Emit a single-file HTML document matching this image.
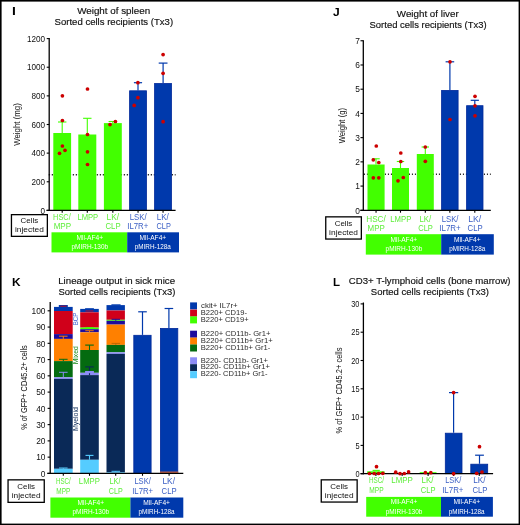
<!DOCTYPE html>
<html><head><meta charset="utf-8"><style>
html,body{margin:0;padding:0;background:#fff;}
svg{display:block;font-family:'Liberation Sans', sans-serif;will-change:transform;}
</style></head><body>
<svg width="520" height="525" viewBox="0 0 520 525">
<rect x="0" y="0" width="520" height="525" fill="#fff"/>
<text x="11.97" y="15.40" font-size="11.5" fill="#000" textLength="3.86" lengthAdjust="spacingAndGlyphs" font-weight="bold">I</text>
<text x="77.16" y="13.50" font-size="9.0" fill="#111" textLength="72.98" lengthAdjust="spacingAndGlyphs" stroke="#111" stroke-width="0.15">Weight of spleen</text>
<text x="54.57" y="24.70" font-size="9.0" fill="#111" textLength="118.53" lengthAdjust="spacingAndGlyphs" stroke="#111" stroke-width="0.15">Sorted cells recipients (Tx3)</text>
<line x1="48.75" y1="174.80" x2="175.60" y2="174.80" stroke="#2a2a2a" stroke-width="1.5" stroke-dasharray="1.3 1.7"/>
<rect x="53.30" y="133.00" width="17.80" height="77.40" fill="#42ff00" />
<rect x="78.30" y="134.50" width="18.00" height="75.90" fill="#42ff00" />
<rect x="103.90" y="123.10" width="17.90" height="87.30" fill="#42ff00" />
<rect x="129.60" y="90.80" width="16.90" height="119.60" fill="#0039ac" stroke="#00289a" stroke-width="0.8"/>
<rect x="154.60" y="83.50" width="16.90" height="126.90" fill="#0039ac" stroke="#00289a" stroke-width="0.8"/>
<line x1="62.20" y1="122.00" x2="62.20" y2="133.00" stroke="#42ff00" stroke-width="1.1" />
<line x1="58.00" y1="122.00" x2="66.40" y2="122.00" stroke="#42ff00" stroke-width="1.1" />
<line x1="87.30" y1="118.30" x2="87.30" y2="134.50" stroke="#42ff00" stroke-width="1.1" />
<line x1="83.10" y1="118.30" x2="91.50" y2="118.30" stroke="#42ff00" stroke-width="1.1" />
<line x1="112.80" y1="121.50" x2="112.80" y2="123.10" stroke="#42ff00" stroke-width="1.1" />
<line x1="108.60" y1="121.50" x2="117.00" y2="121.50" stroke="#42ff00" stroke-width="1.1" />
<line x1="138.00" y1="82.70" x2="138.00" y2="90.40" stroke="#0039ac" stroke-width="1.2" />
<line x1="133.90" y1="82.70" x2="142.10" y2="82.70" stroke="#0039ac" stroke-width="1.2" />
<line x1="163.10" y1="63.10" x2="163.10" y2="83.10" stroke="#0039ac" stroke-width="1.2" />
<line x1="158.70" y1="63.10" x2="167.50" y2="63.10" stroke="#0039ac" stroke-width="1.2" />
<line x1="49.20" y1="38.00" x2="49.20" y2="211.00" stroke="#000" stroke-width="1.3" />
<line x1="46.50" y1="210.40" x2="175.60" y2="210.40" stroke="#000" stroke-width="1.2" />
<line x1="46.70" y1="210.40" x2="49.20" y2="210.40" stroke="#000" stroke-width="1.1" />
<text x="40.59" y="213.64" font-size="8.4" fill="#111" textLength="4.53" lengthAdjust="spacingAndGlyphs">0</text>
<line x1="46.70" y1="181.77" x2="49.20" y2="181.77" stroke="#000" stroke-width="1.1" />
<text x="31.52" y="185.01" font-size="8.4" fill="#111" textLength="13.59" lengthAdjust="spacingAndGlyphs">200</text>
<line x1="46.70" y1="153.13" x2="49.20" y2="153.13" stroke="#000" stroke-width="1.1" />
<text x="31.52" y="156.37" font-size="8.4" fill="#111" textLength="13.59" lengthAdjust="spacingAndGlyphs">400</text>
<line x1="46.70" y1="124.50" x2="49.20" y2="124.50" stroke="#000" stroke-width="1.1" />
<text x="31.52" y="127.74" font-size="8.4" fill="#111" textLength="13.59" lengthAdjust="spacingAndGlyphs">600</text>
<line x1="46.70" y1="95.87" x2="49.20" y2="95.87" stroke="#000" stroke-width="1.1" />
<text x="31.52" y="99.11" font-size="8.4" fill="#111" textLength="13.59" lengthAdjust="spacingAndGlyphs">800</text>
<line x1="46.70" y1="67.23" x2="49.20" y2="67.23" stroke="#000" stroke-width="1.1" />
<text x="26.99" y="70.47" font-size="8.4" fill="#111" textLength="18.13" lengthAdjust="spacingAndGlyphs">1000</text>
<line x1="46.70" y1="38.60" x2="49.20" y2="38.60" stroke="#000" stroke-width="1.1" />
<text x="26.99" y="41.84" font-size="8.4" fill="#111" textLength="18.13" lengthAdjust="spacingAndGlyphs">1200</text>
<line x1="62.20" y1="210.40" x2="62.20" y2="212.80" stroke="#000" stroke-width="1.1" />
<line x1="87.30" y1="210.40" x2="87.30" y2="212.80" stroke="#000" stroke-width="1.1" />
<line x1="112.85" y1="210.40" x2="112.85" y2="212.80" stroke="#000" stroke-width="1.1" />
<line x1="138.05" y1="210.40" x2="138.05" y2="212.80" stroke="#000" stroke-width="1.1" />
<line x1="163.05" y1="210.40" x2="163.05" y2="212.80" stroke="#000" stroke-width="1.1" />
<circle cx="62.40" cy="95.80" r="1.85" fill="#cc0000"/>
<circle cx="62.40" cy="120.50" r="1.85" fill="#cc0000"/>
<circle cx="62.40" cy="146.00" r="1.85" fill="#cc0000"/>
<circle cx="59.50" cy="153.30" r="1.85" fill="#cc0000"/>
<circle cx="65.00" cy="150.30" r="1.85" fill="#cc0000"/>
<circle cx="87.50" cy="89.00" r="1.85" fill="#cc0000"/>
<circle cx="87.50" cy="134.50" r="1.85" fill="#cc0000"/>
<circle cx="87.50" cy="151.80" r="1.85" fill="#cc0000"/>
<circle cx="87.50" cy="164.50" r="1.85" fill="#cc0000"/>
<circle cx="110.00" cy="124.60" r="1.85" fill="#cc0000"/>
<circle cx="115.40" cy="121.50" r="1.85" fill="#cc0000"/>
<circle cx="137.90" cy="82.70" r="1.85" fill="#cc0000"/>
<circle cx="137.90" cy="97.70" r="1.85" fill="#cc0000"/>
<circle cx="134.20" cy="105.40" r="1.85" fill="#cc0000"/>
<circle cx="163.10" cy="54.60" r="1.85" fill="#cc0000"/>
<circle cx="163.10" cy="73.30" r="1.85" fill="#cc0000"/>
<circle cx="163.10" cy="121.70" r="1.85" fill="#cc0000"/>
<text x="20.17" y="145.80" font-size="9.8" fill="#111" textLength="42.62" lengthAdjust="spacingAndGlyphs" transform="rotate(-90 20.20 145.80)">Weight (mg)</text>
<text x="53.10" y="220.10" font-size="8.3" fill="#5eee3a" textLength="17.60" lengthAdjust="spacingAndGlyphs">HSC/</text>
<text x="53.64" y="229.20" font-size="8.3" fill="#5eee3a" textLength="17.49" lengthAdjust="spacingAndGlyphs">MPP</text>
<text x="77.48" y="220.10" font-size="8.3" fill="#5eee3a" textLength="20.73" lengthAdjust="spacingAndGlyphs">LMPP</text>
<text x="106.62" y="220.10" font-size="8.3" fill="#5eee3a" textLength="12.38" lengthAdjust="spacingAndGlyphs">LK/</text>
<text x="105.51" y="229.20" font-size="8.3" fill="#5eee3a" textLength="15.10" lengthAdjust="spacingAndGlyphs">CLP</text>
<text x="129.66" y="220.10" font-size="8.3" fill="#3a5ec4" textLength="16.94" lengthAdjust="spacingAndGlyphs">LSK/</text>
<text x="127.28" y="229.20" font-size="8.3" fill="#3a5ec4" textLength="21.00" lengthAdjust="spacingAndGlyphs">IL7R+</text>
<text x="156.64" y="220.10" font-size="8.3" fill="#3a5ec4" textLength="12.16" lengthAdjust="spacingAndGlyphs">LK/</text>
<text x="156.53" y="229.20" font-size="8.3" fill="#3a5ec4" textLength="14.26" lengthAdjust="spacingAndGlyphs">CLP</text>
<rect x="11.45" y="214.65" width="35.90" height="21.70" fill="#fff" stroke="#000" stroke-width="1.3"/>
<text x="20.55" y="223.40" font-size="8.0" fill="#111" textLength="17.59" lengthAdjust="spacingAndGlyphs">Cells</text>
<text x="14.99" y="232.10" font-size="8.0" fill="#111" textLength="28.80" lengthAdjust="spacingAndGlyphs">injected</text>
<rect x="51.50" y="232.30" width="75.70" height="20.10" fill="#42ff00" />
<rect x="127.20" y="232.30" width="51.80" height="20.10" fill="#0039ac" />
<text x="76.41" y="239.70" font-size="7.9" fill="#fff" textLength="26.67" lengthAdjust="spacingAndGlyphs">Mll-AF4+</text>
<text x="71.43" y="249.20" font-size="7.9" fill="#fff" textLength="36.69" lengthAdjust="spacingAndGlyphs">pMIRH-130b</text>
<text x="139.56" y="239.70" font-size="7.9" fill="#fff" textLength="26.67" lengthAdjust="spacingAndGlyphs">Mll-AF4+</text>
<text x="134.79" y="249.20" font-size="7.9" fill="#fff" textLength="36.01" lengthAdjust="spacingAndGlyphs">pMIRH-128a</text>
<text x="332.92" y="15.60" font-size="11.5" fill="#000" textLength="6.71" lengthAdjust="spacingAndGlyphs" font-weight="bold">J</text>
<text x="396.86" y="16.50" font-size="9.0" fill="#111" textLength="61.80" lengthAdjust="spacingAndGlyphs" stroke="#111" stroke-width="0.15">Weight of liver</text>
<text x="369.57" y="28.10" font-size="9.0" fill="#111" textLength="117.01" lengthAdjust="spacingAndGlyphs" stroke="#111" stroke-width="0.15">Sorted cells recipients (Tx3)</text>
<line x1="363.90" y1="174.15" x2="490.80" y2="174.15" stroke="#2a2a2a" stroke-width="1.5" stroke-dasharray="1.1 1.9"/>
<rect x="367.50" y="164.50" width="17.10" height="45.80" fill="#42ff00" />
<rect x="392.00" y="168.00" width="17.00" height="42.30" fill="#42ff00" />
<rect x="416.80" y="154.00" width="17.00" height="56.30" fill="#42ff00" />
<rect x="441.60" y="90.40" width="16.50" height="119.90" fill="#0039ac" stroke="#00289a" stroke-width="0.8"/>
<rect x="466.60" y="105.70" width="16.40" height="104.60" fill="#0039ac" stroke="#00289a" stroke-width="0.8"/>
<line x1="376.00" y1="158.80" x2="376.00" y2="164.50" stroke="#42ff00" stroke-width="1.1" />
<line x1="372.30" y1="158.80" x2="379.70" y2="158.80" stroke="#42ff00" stroke-width="1.1" />
<line x1="400.50" y1="161.50" x2="400.50" y2="168.00" stroke="#42ff00" stroke-width="1.1" />
<line x1="396.80" y1="161.50" x2="404.20" y2="161.50" stroke="#42ff00" stroke-width="1.1" />
<line x1="425.30" y1="147.00" x2="425.30" y2="154.00" stroke="#42ff00" stroke-width="1.1" />
<line x1="421.60" y1="147.00" x2="429.00" y2="147.00" stroke="#42ff00" stroke-width="1.1" />
<line x1="449.90" y1="61.80" x2="449.90" y2="90.00" stroke="#0039ac" stroke-width="1.2" />
<line x1="445.60" y1="61.80" x2="454.20" y2="61.80" stroke="#0039ac" stroke-width="1.2" />
<line x1="474.80" y1="100.30" x2="474.80" y2="105.30" stroke="#0039ac" stroke-width="1.2" />
<line x1="470.70" y1="100.30" x2="478.90" y2="100.30" stroke="#0039ac" stroke-width="1.2" />
<line x1="363.30" y1="40.30" x2="363.30" y2="211.00" stroke="#000" stroke-width="1.3" />
<line x1="360.30" y1="210.30" x2="490.80" y2="210.30" stroke="#000" stroke-width="1.2" />
<line x1="360.50" y1="210.30" x2="363.30" y2="210.30" stroke="#000" stroke-width="1.1" />
<text x="355.26" y="213.54" font-size="8.4" fill="#111" textLength="4.67" lengthAdjust="spacingAndGlyphs">0</text>
<line x1="360.50" y1="186.08" x2="363.30" y2="186.08" stroke="#000" stroke-width="1.1" />
<text x="355.34" y="189.32" font-size="8.4" fill="#111" textLength="4.67" lengthAdjust="spacingAndGlyphs">1</text>
<line x1="360.50" y1="161.86" x2="363.30" y2="161.86" stroke="#000" stroke-width="1.1" />
<text x="355.35" y="165.10" font-size="8.4" fill="#111" textLength="4.67" lengthAdjust="spacingAndGlyphs">2</text>
<line x1="360.50" y1="137.64" x2="363.30" y2="137.64" stroke="#000" stroke-width="1.1" />
<text x="355.30" y="140.88" font-size="8.4" fill="#111" textLength="4.67" lengthAdjust="spacingAndGlyphs">3</text>
<line x1="360.50" y1="113.42" x2="363.30" y2="113.42" stroke="#000" stroke-width="1.1" />
<text x="355.17" y="116.66" font-size="8.4" fill="#111" textLength="4.67" lengthAdjust="spacingAndGlyphs">4</text>
<line x1="360.50" y1="89.20" x2="363.30" y2="89.20" stroke="#000" stroke-width="1.1" />
<text x="355.28" y="92.44" font-size="8.4" fill="#111" textLength="4.67" lengthAdjust="spacingAndGlyphs">5</text>
<line x1="360.50" y1="64.98" x2="363.30" y2="64.98" stroke="#000" stroke-width="1.1" />
<text x="355.30" y="68.22" font-size="8.4" fill="#111" textLength="4.67" lengthAdjust="spacingAndGlyphs">6</text>
<line x1="360.50" y1="40.76" x2="363.30" y2="40.76" stroke="#000" stroke-width="1.1" />
<text x="355.35" y="44.00" font-size="8.4" fill="#111" textLength="4.67" lengthAdjust="spacingAndGlyphs">7</text>
<line x1="376.05" y1="210.30" x2="376.05" y2="212.70" stroke="#000" stroke-width="1.1" />
<line x1="400.50" y1="210.30" x2="400.50" y2="212.70" stroke="#000" stroke-width="1.1" />
<line x1="425.30" y1="210.30" x2="425.30" y2="212.70" stroke="#000" stroke-width="1.1" />
<line x1="449.85" y1="210.30" x2="449.85" y2="212.70" stroke="#000" stroke-width="1.1" />
<line x1="474.80" y1="210.30" x2="474.80" y2="212.70" stroke="#000" stroke-width="1.1" />
<circle cx="376.30" cy="146.00" r="1.85" fill="#cc0000"/>
<circle cx="373.30" cy="159.80" r="1.85" fill="#cc0000"/>
<circle cx="378.80" cy="162.50" r="1.85" fill="#cc0000"/>
<circle cx="373.30" cy="177.80" r="1.85" fill="#cc0000"/>
<circle cx="378.80" cy="177.80" r="1.85" fill="#cc0000"/>
<circle cx="400.80" cy="153.00" r="1.85" fill="#cc0000"/>
<circle cx="400.80" cy="161.50" r="1.85" fill="#cc0000"/>
<circle cx="398.00" cy="180.80" r="1.85" fill="#cc0000"/>
<circle cx="403.30" cy="177.50" r="1.85" fill="#cc0000"/>
<circle cx="425.30" cy="147.00" r="1.85" fill="#cc0000"/>
<circle cx="425.30" cy="161.30" r="1.85" fill="#cc0000"/>
<circle cx="450.00" cy="61.80" r="1.85" fill="#cc0000"/>
<circle cx="450.00" cy="119.50" r="1.85" fill="#cc0000"/>
<circle cx="475.00" cy="96.30" r="1.85" fill="#cc0000"/>
<circle cx="475.00" cy="105.80" r="1.85" fill="#cc0000"/>
<circle cx="475.00" cy="115.80" r="1.85" fill="#cc0000"/>
<text x="344.67" y="143.30" font-size="9.8" fill="#111" textLength="35.41" lengthAdjust="spacingAndGlyphs" transform="rotate(-90 344.70 143.30)">Weight (g)</text>
<text x="366.23" y="222.10" font-size="8.3" fill="#5eee3a" textLength="19.57" lengthAdjust="spacingAndGlyphs">HSC/</text>
<text x="367.55" y="231.30" font-size="8.3" fill="#5eee3a" textLength="17.17" lengthAdjust="spacingAndGlyphs">MPP</text>
<text x="390.27" y="222.10" font-size="8.3" fill="#5eee3a" textLength="21.04" lengthAdjust="spacingAndGlyphs">LMPP</text>
<text x="419.56" y="222.10" font-size="8.3" fill="#5eee3a" textLength="11.64" lengthAdjust="spacingAndGlyphs">LK/</text>
<text x="418.22" y="231.30" font-size="8.3" fill="#5eee3a" textLength="14.68" lengthAdjust="spacingAndGlyphs">CLP</text>
<text x="441.66" y="222.10" font-size="8.3" fill="#3a5ec4" textLength="16.84" lengthAdjust="spacingAndGlyphs">LSK/</text>
<text x="439.27" y="231.30" font-size="8.3" fill="#3a5ec4" textLength="21.43" lengthAdjust="spacingAndGlyphs">IL7R+</text>
<text x="468.19" y="222.10" font-size="8.3" fill="#3a5ec4" textLength="13.01" lengthAdjust="spacingAndGlyphs">LK/</text>
<text x="467.61" y="231.30" font-size="8.3" fill="#3a5ec4" textLength="15.10" lengthAdjust="spacingAndGlyphs">CLP</text>
<rect x="325.75" y="216.85" width="35.60" height="22.20" fill="#fff" stroke="#000" stroke-width="1.3"/>
<text x="334.70" y="225.80" font-size="8.0" fill="#111" textLength="17.59" lengthAdjust="spacingAndGlyphs">Cells</text>
<text x="329.14" y="235.30" font-size="8.0" fill="#111" textLength="28.80" lengthAdjust="spacingAndGlyphs">injected</text>
<rect x="365.80" y="234.20" width="75.40" height="20.40" fill="#42ff00" />
<rect x="441.20" y="234.20" width="52.60" height="20.40" fill="#0039ac" />
<text x="390.56" y="241.60" font-size="7.9" fill="#fff" textLength="26.67" lengthAdjust="spacingAndGlyphs">Mll-AF4+</text>
<text x="385.58" y="251.10" font-size="7.9" fill="#fff" textLength="36.69" lengthAdjust="spacingAndGlyphs">pMIRH-130b</text>
<text x="453.96" y="241.60" font-size="7.9" fill="#fff" textLength="26.67" lengthAdjust="spacingAndGlyphs">Mll-AF4+</text>
<text x="449.19" y="251.10" font-size="7.9" fill="#fff" textLength="36.01" lengthAdjust="spacingAndGlyphs">pMIRH-128a</text>
<text x="12.10" y="285.70" font-size="11.5" fill="#000" textLength="8.61" lengthAdjust="spacingAndGlyphs" font-weight="bold">K</text>
<text x="58.21" y="284.40" font-size="9.0" fill="#111" textLength="116.82" lengthAdjust="spacingAndGlyphs" stroke="#111" stroke-width="0.15">Lineage output in sick mice</text>
<text x="58.57" y="295.10" font-size="9.0" fill="#111" textLength="116.91" lengthAdjust="spacingAndGlyphs" stroke="#111" stroke-width="0.15">Sorted cells recipients (Tx3)</text>
<rect x="54.00" y="306.90" width="18.70" height="4.10" fill="#0039ac" />
<rect x="54.00" y="311.00" width="18.70" height="23.10" fill="#d0001a" />
<rect x="54.00" y="334.10" width="18.70" height="4.80" fill="#1e0c9c" />
<rect x="54.00" y="338.90" width="18.70" height="22.20" fill="#ff8000" />
<rect x="54.00" y="361.10" width="18.70" height="16.20" fill="#046b10" />
<rect x="54.00" y="377.30" width="18.70" height="1.60" fill="#8c8cf5" />
<rect x="54.00" y="378.90" width="18.70" height="89.90" fill="#0a2957" />
<rect x="54.00" y="468.80" width="18.70" height="4.60" fill="#55ccff" />
<rect x="80.20" y="308.90" width="18.60" height="3.40" fill="#0039ac" />
<rect x="80.20" y="312.30" width="18.60" height="15.30" fill="#d0001a" />
<rect x="80.20" y="327.60" width="18.60" height="1.60" fill="#42ff00" />
<rect x="80.20" y="329.20" width="18.60" height="3.10" fill="#1e0c9c" />
<rect x="80.20" y="332.30" width="18.60" height="17.70" fill="#ff8000" />
<rect x="80.20" y="350.00" width="18.60" height="22.80" fill="#046b10" />
<rect x="80.20" y="372.80" width="18.60" height="2.30" fill="#8c8cf5" />
<rect x="80.20" y="375.10" width="18.60" height="84.70" fill="#0a2957" />
<rect x="80.20" y="459.80" width="18.60" height="13.60" fill="#55ccff" />
<rect x="106.50" y="305.10" width="18.40" height="5.40" fill="#0039ac" />
<rect x="106.50" y="310.50" width="18.40" height="9.30" fill="#d0001a" />
<rect x="106.50" y="319.80" width="18.40" height="1.00" fill="#42ff00" />
<rect x="106.50" y="320.80" width="18.40" height="3.80" fill="#1e0c9c" />
<rect x="106.50" y="324.60" width="18.40" height="20.30" fill="#ff8000" />
<rect x="106.50" y="344.90" width="18.40" height="7.40" fill="#046b10" />
<rect x="106.50" y="352.30" width="18.40" height="1.60" fill="#8c8cf5" />
<rect x="106.50" y="353.90" width="18.40" height="118.40" fill="#0a2957" />
<rect x="106.50" y="472.30" width="18.40" height="1.10" fill="#55ccff" />
<rect x="58.80" y="305.00" width="9.00" height="2.00" fill="#0039ac" />
<line x1="60.20" y1="306.20" x2="66.60" y2="306.20" stroke="#d0001a" stroke-width="0.9" />
<line x1="63.30" y1="336.20" x2="63.30" y2="338.90" stroke="#ff8000" stroke-width="1" />
<line x1="59.00" y1="336.20" x2="67.60" y2="336.20" stroke="#ff8000" stroke-width="1" />
<line x1="63.30" y1="359.30" x2="63.30" y2="361.10" stroke="#046b10" stroke-width="1" />
<line x1="59.00" y1="359.30" x2="67.60" y2="359.30" stroke="#046b10" stroke-width="1" />
<line x1="63.30" y1="372.30" x2="63.30" y2="377.30" stroke="#8c8cf5" stroke-width="1" />
<line x1="59.00" y1="372.30" x2="67.60" y2="372.30" stroke="#8c8cf5" stroke-width="1" />
<line x1="63.30" y1="468.00" x2="63.30" y2="468.80" stroke="#55ccff" stroke-width="1" />
<line x1="59.00" y1="468.00" x2="67.60" y2="468.00" stroke="#55ccff" stroke-width="1" />
<rect x="85.10" y="308.20" width="8.80" height="1.30" fill="#0039ac" />
<line x1="85.50" y1="311.00" x2="93.50" y2="311.00" stroke="#d0001a" stroke-width="0.9" />
<line x1="89.50" y1="327.80" x2="89.50" y2="329.00" stroke="#42ff00" stroke-width="1.1" />
<line x1="85.30" y1="327.80" x2="93.70" y2="327.80" stroke="#42ff00" stroke-width="1.1" />
<line x1="89.50" y1="330.70" x2="89.50" y2="332.30" stroke="#ff8000" stroke-width="0.9" />
<line x1="85.30" y1="330.70" x2="93.70" y2="330.70" stroke="#ff8000" stroke-width="0.9" />
<line x1="89.50" y1="345.10" x2="89.50" y2="350.00" stroke="#046b10" stroke-width="1.1" />
<line x1="85.20" y1="345.10" x2="93.80" y2="345.10" stroke="#046b10" stroke-width="1.1" />
<line x1="89.50" y1="366.90" x2="89.50" y2="375.10" stroke="#0a2957" stroke-width="1.1" />
<line x1="85.20" y1="366.90" x2="93.80" y2="366.90" stroke="#0a2957" stroke-width="1.1" />
<rect x="85.10" y="371.00" width="8.80" height="2.20" fill="#8c8cf5" />
<line x1="89.50" y1="455.40" x2="89.50" y2="459.80" stroke="#55ccff" stroke-width="1.1" />
<line x1="85.50" y1="455.40" x2="93.50" y2="455.40" stroke="#55ccff" stroke-width="1.1" />
<rect x="111.40" y="304.30" width="9.20" height="1.30" fill="#0039ac" />
<line x1="115.80" y1="319.30" x2="115.80" y2="320.80" stroke="#1e0c9c" stroke-width="1.0" />
<line x1="111.60" y1="319.30" x2="120.00" y2="319.30" stroke="#1e0c9c" stroke-width="1.0" />
<line x1="115.80" y1="343.40" x2="115.80" y2="344.90" stroke="#b86400" stroke-width="0.9" />
<line x1="111.60" y1="343.40" x2="120.00" y2="343.40" stroke="#b86400" stroke-width="0.9" />
<line x1="115.80" y1="471.30" x2="115.80" y2="472.30" stroke="#55ccff" stroke-width="1.0" />
<line x1="111.50" y1="471.30" x2="120.10" y2="471.30" stroke="#55ccff" stroke-width="1.0" />
<rect x="133.80" y="335.30" width="17.30" height="138.10" fill="#0039ac" stroke="#00289a" stroke-width="0.8"/>
<rect x="160.40" y="328.40" width="17.40" height="145.00" fill="#0039ac" stroke="#00289a" stroke-width="0.8"/>
<rect x="160.00" y="471.60" width="18.20" height="1.30" fill="#e06a40" />
<line x1="142.50" y1="311.80" x2="142.50" y2="334.90" stroke="#0039ac" stroke-width="1.2" />
<line x1="138.20" y1="311.80" x2="146.80" y2="311.80" stroke="#0039ac" stroke-width="1.2" />
<line x1="168.90" y1="308.50" x2="168.90" y2="328.00" stroke="#0039ac" stroke-width="1.2" />
<line x1="164.60" y1="308.50" x2="173.20" y2="308.50" stroke="#0039ac" stroke-width="1.2" />
<line x1="50.20" y1="302.00" x2="50.20" y2="474.00" stroke="#000" stroke-width="1.3" />
<line x1="47.30" y1="473.40" x2="183.30" y2="473.40" stroke="#000" stroke-width="1.2" />
<line x1="47.60" y1="473.40" x2="50.20" y2="473.40" stroke="#000" stroke-width="1.1" />
<text x="40.86" y="476.64" font-size="8.4" fill="#111" textLength="4.67" lengthAdjust="spacingAndGlyphs">0</text>
<line x1="47.60" y1="457.14" x2="50.20" y2="457.14" stroke="#000" stroke-width="1.1" />
<text x="36.18" y="460.38" font-size="8.4" fill="#111" textLength="9.34" lengthAdjust="spacingAndGlyphs">10</text>
<line x1="47.60" y1="440.88" x2="50.20" y2="440.88" stroke="#000" stroke-width="1.1" />
<text x="36.18" y="444.12" font-size="8.4" fill="#111" textLength="9.34" lengthAdjust="spacingAndGlyphs">20</text>
<line x1="47.60" y1="424.62" x2="50.20" y2="424.62" stroke="#000" stroke-width="1.1" />
<text x="36.18" y="427.86" font-size="8.4" fill="#111" textLength="9.34" lengthAdjust="spacingAndGlyphs">30</text>
<line x1="47.60" y1="408.36" x2="50.20" y2="408.36" stroke="#000" stroke-width="1.1" />
<text x="36.18" y="411.60" font-size="8.4" fill="#111" textLength="9.34" lengthAdjust="spacingAndGlyphs">40</text>
<line x1="47.60" y1="392.10" x2="50.20" y2="392.10" stroke="#000" stroke-width="1.1" />
<text x="36.18" y="395.34" font-size="8.4" fill="#111" textLength="9.34" lengthAdjust="spacingAndGlyphs">50</text>
<line x1="47.60" y1="375.84" x2="50.20" y2="375.84" stroke="#000" stroke-width="1.1" />
<text x="36.18" y="379.08" font-size="8.4" fill="#111" textLength="9.34" lengthAdjust="spacingAndGlyphs">60</text>
<line x1="47.60" y1="359.58" x2="50.20" y2="359.58" stroke="#000" stroke-width="1.1" />
<text x="36.18" y="362.82" font-size="8.4" fill="#111" textLength="9.34" lengthAdjust="spacingAndGlyphs">70</text>
<line x1="47.60" y1="343.32" x2="50.20" y2="343.32" stroke="#000" stroke-width="1.1" />
<text x="36.18" y="346.56" font-size="8.4" fill="#111" textLength="9.34" lengthAdjust="spacingAndGlyphs">80</text>
<line x1="47.60" y1="327.06" x2="50.20" y2="327.06" stroke="#000" stroke-width="1.1" />
<text x="36.18" y="330.30" font-size="8.4" fill="#111" textLength="9.34" lengthAdjust="spacingAndGlyphs">90</text>
<line x1="47.60" y1="310.80" x2="50.20" y2="310.80" stroke="#000" stroke-width="1.1" />
<text x="31.51" y="314.04" font-size="8.4" fill="#111" textLength="14.02" lengthAdjust="spacingAndGlyphs">100</text>
<line x1="63.30" y1="473.40" x2="63.30" y2="475.80" stroke="#000" stroke-width="1.1" />
<line x1="89.50" y1="473.40" x2="89.50" y2="475.80" stroke="#000" stroke-width="1.1" />
<line x1="115.70" y1="473.40" x2="115.70" y2="475.80" stroke="#000" stroke-width="1.1" />
<line x1="142.50" y1="473.40" x2="142.50" y2="475.80" stroke="#000" stroke-width="1.1" />
<line x1="169.10" y1="473.40" x2="169.10" y2="475.80" stroke="#000" stroke-width="1.1" />
<text x="77.89" y="324.80" font-size="6.3" fill="#3b5fd0" textLength="12.84" lengthAdjust="spacingAndGlyphs" transform="rotate(-90 78.40 324.80)">BCP</text>
<text x="77.34" y="363.80" font-size="6.3" fill="#1a8a1a" textLength="18.31" lengthAdjust="spacingAndGlyphs" transform="rotate(-90 77.90 363.80)">Mixed</text>
<text x="77.33" y="430.50" font-size="6.4" fill="#0a2957" textLength="23.92" lengthAdjust="spacingAndGlyphs" transform="rotate(-90 77.90 430.50)">Myeloid</text>
<text x="26.34" y="429.60" font-size="9.6" fill="#111" textLength="84.63" lengthAdjust="spacingAndGlyphs" transform="rotate(-90 26.60 429.60)">% of GFP+ CD45.2+ cells</text>
<rect x="190.10" y="302.40" width="6.90" height="7.00" fill="#0039ac" />
<text x="201.07" y="307.60" font-size="7.0" fill="#2a2a2a" textLength="36.52" lengthAdjust="spacingAndGlyphs">ckit+ IL7r+</text>
<rect x="190.10" y="309.60" width="6.90" height="7.00" fill="#d0001a" />
<text x="200.78" y="314.80" font-size="7.0" fill="#2a2a2a" textLength="46.16" lengthAdjust="spacingAndGlyphs">B220+ CD19-</text>
<rect x="190.10" y="316.40" width="6.90" height="7.00" fill="#42ff00" />
<text x="200.78" y="321.60" font-size="7.0" fill="#2a2a2a" textLength="47.89" lengthAdjust="spacingAndGlyphs">B220+ CD19+</text>
<rect x="190.10" y="330.70" width="6.90" height="7.00" fill="#1e0c9c" />
<text x="200.78" y="335.90" font-size="7.0" fill="#2a2a2a" textLength="69.60" lengthAdjust="spacingAndGlyphs">B220+ CD11b- Gr1+</text>
<rect x="190.10" y="337.60" width="6.90" height="7.00" fill="#ff8000" />
<text x="200.77" y="342.80" font-size="7.0" fill="#2a2a2a" textLength="71.90" lengthAdjust="spacingAndGlyphs">B220+ CD11b+ Gr1+</text>
<rect x="190.10" y="344.50" width="6.90" height="7.00" fill="#046b10" />
<text x="200.78" y="349.70" font-size="7.0" fill="#2a2a2a" textLength="69.56" lengthAdjust="spacingAndGlyphs">B220+ CD11b+ Gr1-</text>
<rect x="190.10" y="357.30" width="6.90" height="7.00" fill="#8c8cf5" />
<text x="200.78" y="362.50" font-size="7.0" fill="#2a2a2a" textLength="67.29" lengthAdjust="spacingAndGlyphs">B220- CD11b- Gr1+</text>
<rect x="190.10" y="364.20" width="6.90" height="7.00" fill="#0a2957" />
<text x="200.78" y="369.40" font-size="7.0" fill="#2a2a2a" textLength="69.29" lengthAdjust="spacingAndGlyphs">B220- CD11b+ Gr1+</text>
<rect x="190.10" y="371.20" width="6.90" height="7.00" fill="#55ccff" />
<text x="200.79" y="376.40" font-size="7.0" fill="#2a2a2a" textLength="66.75" lengthAdjust="spacingAndGlyphs">B220- CD11b+ Gr1-</text>
<text x="55.99" y="483.60" font-size="8.8" fill="#5eee3a" textLength="14.81" lengthAdjust="spacingAndGlyphs">HSC/</text>
<text x="56.37" y="493.50" font-size="8.8" fill="#5eee3a" textLength="13.97" lengthAdjust="spacingAndGlyphs">MPP</text>
<text x="78.87" y="483.60" font-size="8.8" fill="#5eee3a" textLength="21.04" lengthAdjust="spacingAndGlyphs">LMPP</text>
<text x="109.39" y="483.60" font-size="8.8" fill="#5eee3a" textLength="11.11" lengthAdjust="spacingAndGlyphs">LK/</text>
<text x="108.84" y="493.50" font-size="8.8" fill="#5eee3a" textLength="13.84" lengthAdjust="spacingAndGlyphs">CLP</text>
<text x="134.38" y="483.60" font-size="8.8" fill="#3a5ec4" textLength="16.42" lengthAdjust="spacingAndGlyphs">LSK/</text>
<text x="132.18" y="493.50" font-size="8.8" fill="#3a5ec4" textLength="21.00" lengthAdjust="spacingAndGlyphs">IL7R+</text>
<text x="162.41" y="483.60" font-size="8.8" fill="#3a5ec4" textLength="12.59" lengthAdjust="spacingAndGlyphs">LK/</text>
<text x="161.61" y="493.50" font-size="8.8" fill="#3a5ec4" textLength="15.00" lengthAdjust="spacingAndGlyphs">CLP</text>
<rect x="8.05" y="479.85" width="36.20" height="22.50" fill="#fff" stroke="#000" stroke-width="1.3"/>
<text x="17.30" y="488.80" font-size="8.0" fill="#111" textLength="17.59" lengthAdjust="spacingAndGlyphs">Cells</text>
<text x="11.74" y="498.20" font-size="8.0" fill="#111" textLength="28.80" lengthAdjust="spacingAndGlyphs">injected</text>
<rect x="50.40" y="497.50" width="80.00" height="20.20" fill="#42ff00" />
<rect x="130.40" y="497.50" width="52.90" height="20.20" fill="#0039ac" />
<text x="77.46" y="504.90" font-size="7.9" fill="#fff" textLength="26.67" lengthAdjust="spacingAndGlyphs">Mll-AF4+</text>
<text x="72.48" y="514.40" font-size="7.9" fill="#fff" textLength="36.69" lengthAdjust="spacingAndGlyphs">pMIRH-130b</text>
<text x="143.31" y="504.90" font-size="7.9" fill="#fff" textLength="26.67" lengthAdjust="spacingAndGlyphs">Mll-AF4+</text>
<text x="138.54" y="514.40" font-size="7.9" fill="#fff" textLength="36.01" lengthAdjust="spacingAndGlyphs">pMIRH-128a</text>
<text x="333.03" y="285.70" font-size="11.5" fill="#000" textLength="7.02" lengthAdjust="spacingAndGlyphs" font-weight="bold">L</text>
<text x="348.76" y="284.10" font-size="9.0" fill="#111" textLength="161.83" lengthAdjust="spacingAndGlyphs" stroke="#111" stroke-width="0.15">CD3+ T-lymphoid cells (bone marrow)</text>
<text x="370.82" y="295.40" font-size="9.0" fill="#111" textLength="118.07" lengthAdjust="spacingAndGlyphs" stroke="#111" stroke-width="0.15">Sorted cells recipients (Tx3)</text>
<rect x="367.20" y="471.30" width="17.40" height="2.40" fill="#42ff00" />
<rect x="393.50" y="473.00" width="17.30" height="0.70" fill="#42ff00" />
<rect x="419.70" y="472.20" width="16.80" height="1.50" fill="#42ff00" />
<rect x="445.30" y="433.20" width="16.70" height="40.50" fill="#0039ac" stroke="#00289a" stroke-width="0.8"/>
<rect x="470.80" y="464.20" width="16.90" height="9.50" fill="#0039ac" stroke="#00289a" stroke-width="0.8"/>
<line x1="376.20" y1="470.40" x2="376.20" y2="471.30" stroke="#42ff00" stroke-width="1.1" />
<line x1="372.60" y1="470.40" x2="379.80" y2="470.40" stroke="#42ff00" stroke-width="1.1" />
<line x1="453.60" y1="392.60" x2="453.60" y2="432.80" stroke="#0039ac" stroke-width="1.2" />
<line x1="449.00" y1="392.60" x2="458.20" y2="392.60" stroke="#0039ac" stroke-width="1.2" />
<line x1="479.50" y1="455.20" x2="479.50" y2="463.80" stroke="#0039ac" stroke-width="1.2" />
<line x1="475.10" y1="455.20" x2="483.90" y2="455.20" stroke="#0039ac" stroke-width="1.2" />
<line x1="363.40" y1="302.50" x2="363.40" y2="474.30" stroke="#000" stroke-width="1.3" />
<line x1="360.50" y1="473.70" x2="493.10" y2="473.70" stroke="#000" stroke-width="1.2" />
<line x1="360.60" y1="473.70" x2="363.40" y2="473.70" stroke="#000" stroke-width="1.1" />
<text x="355.38" y="476.94" font-size="8.4" fill="#111" textLength="4.11" lengthAdjust="spacingAndGlyphs">0</text>
<line x1="360.60" y1="445.40" x2="363.40" y2="445.40" stroke="#000" stroke-width="1.1" />
<text x="355.40" y="448.64" font-size="8.4" fill="#111" textLength="4.11" lengthAdjust="spacingAndGlyphs">5</text>
<line x1="360.60" y1="417.10" x2="363.40" y2="417.10" stroke="#000" stroke-width="1.1" />
<text x="351.27" y="420.34" font-size="8.4" fill="#111" textLength="8.22" lengthAdjust="spacingAndGlyphs">10</text>
<line x1="360.60" y1="388.80" x2="363.40" y2="388.80" stroke="#000" stroke-width="1.1" />
<text x="351.29" y="392.04" font-size="8.4" fill="#111" textLength="8.22" lengthAdjust="spacingAndGlyphs">15</text>
<line x1="360.60" y1="360.50" x2="363.40" y2="360.50" stroke="#000" stroke-width="1.1" />
<text x="351.27" y="363.74" font-size="8.4" fill="#111" textLength="8.22" lengthAdjust="spacingAndGlyphs">20</text>
<line x1="360.60" y1="332.20" x2="363.40" y2="332.20" stroke="#000" stroke-width="1.1" />
<text x="351.29" y="335.44" font-size="8.4" fill="#111" textLength="8.22" lengthAdjust="spacingAndGlyphs">25</text>
<line x1="360.60" y1="303.90" x2="363.40" y2="303.90" stroke="#000" stroke-width="1.1" />
<text x="351.27" y="307.14" font-size="8.4" fill="#111" textLength="8.22" lengthAdjust="spacingAndGlyphs">30</text>
<line x1="375.90" y1="473.70" x2="375.90" y2="476.10" stroke="#000" stroke-width="1.1" />
<line x1="402.15" y1="473.70" x2="402.15" y2="476.10" stroke="#000" stroke-width="1.1" />
<line x1="428.10" y1="473.70" x2="428.10" y2="476.10" stroke="#000" stroke-width="1.1" />
<line x1="453.65" y1="473.70" x2="453.65" y2="476.10" stroke="#000" stroke-width="1.1" />
<line x1="479.25" y1="473.70" x2="479.25" y2="476.10" stroke="#000" stroke-width="1.1" />
<circle cx="369.50" cy="473.50" r="1.85" fill="#cc0000"/>
<circle cx="374.20" cy="473.50" r="1.85" fill="#cc0000"/>
<circle cx="378.50" cy="473.50" r="1.85" fill="#cc0000"/>
<circle cx="382.80" cy="473.30" r="1.85" fill="#cc0000"/>
<circle cx="376.50" cy="466.70" r="1.85" fill="#cc0000"/>
<circle cx="395.70" cy="472.20" r="1.85" fill="#cc0000"/>
<circle cx="400.00" cy="473.60" r="1.85" fill="#cc0000"/>
<circle cx="404.30" cy="473.50" r="1.85" fill="#cc0000"/>
<circle cx="408.60" cy="471.90" r="1.85" fill="#cc0000"/>
<circle cx="425.40" cy="472.70" r="1.85" fill="#cc0000"/>
<circle cx="430.80" cy="472.70" r="1.85" fill="#cc0000"/>
<circle cx="453.60" cy="392.60" r="1.85" fill="#cc0000"/>
<circle cx="453.60" cy="473.70" r="1.85" fill="#cc0000"/>
<circle cx="479.50" cy="446.70" r="1.85" fill="#cc0000"/>
<circle cx="476.70" cy="473.30" r="1.85" fill="#cc0000"/>
<circle cx="482.00" cy="472.00" r="1.85" fill="#cc0000"/>
<text x="342.13" y="433.30" font-size="9.8" fill="#111" textLength="86.04" lengthAdjust="spacingAndGlyphs" transform="rotate(-90 342.40 433.30)">% of GFP+ CD45.2+ cells</text>
<text x="368.88" y="483.20" font-size="8.8" fill="#5eee3a" textLength="15.12" lengthAdjust="spacingAndGlyphs">HSC/</text>
<text x="369.26" y="493.00" font-size="8.8" fill="#5eee3a" textLength="14.29" lengthAdjust="spacingAndGlyphs">MPP</text>
<text x="391.35" y="483.20" font-size="8.8" fill="#5eee3a" textLength="21.57" lengthAdjust="spacingAndGlyphs">LMPP</text>
<text x="421.55" y="483.20" font-size="8.8" fill="#5eee3a" textLength="11.95" lengthAdjust="spacingAndGlyphs">LK/</text>
<text x="420.82" y="493.00" font-size="8.8" fill="#5eee3a" textLength="14.68" lengthAdjust="spacingAndGlyphs">CLP</text>
<text x="445.19" y="483.20" font-size="8.8" fill="#3a5ec4" textLength="16.11" lengthAdjust="spacingAndGlyphs">LSK/</text>
<text x="442.17" y="493.00" font-size="8.8" fill="#3a5ec4" textLength="21.32" lengthAdjust="spacingAndGlyphs">IL7R+</text>
<text x="473.33" y="483.20" font-size="8.8" fill="#3a5ec4" textLength="12.27" lengthAdjust="spacingAndGlyphs">LK/</text>
<text x="472.51" y="493.00" font-size="8.8" fill="#3a5ec4" textLength="15.00" lengthAdjust="spacingAndGlyphs">CLP</text>
<rect x="321.25" y="479.85" width="35.90" height="22.20" fill="#fff" stroke="#000" stroke-width="1.3"/>
<text x="330.35" y="488.80" font-size="8.0" fill="#111" textLength="17.59" lengthAdjust="spacingAndGlyphs">Cells</text>
<text x="324.79" y="498.00" font-size="8.0" fill="#111" textLength="28.80" lengthAdjust="spacingAndGlyphs">injected</text>
<rect x="366.20" y="496.90" width="74.80" height="19.80" fill="#42ff00" />
<rect x="441.00" y="496.90" width="51.90" height="19.80" fill="#0039ac" />
<text x="390.66" y="504.30" font-size="7.9" fill="#fff" textLength="26.67" lengthAdjust="spacingAndGlyphs">Mll-AF4+</text>
<text x="385.68" y="513.80" font-size="7.9" fill="#fff" textLength="36.69" lengthAdjust="spacingAndGlyphs">pMIRH-130b</text>
<text x="453.41" y="504.30" font-size="7.9" fill="#fff" textLength="26.67" lengthAdjust="spacingAndGlyphs">Mll-AF4+</text>
<text x="448.64" y="513.80" font-size="7.9" fill="#fff" textLength="36.01" lengthAdjust="spacingAndGlyphs">pMIRH-128a</text>
<rect x="0" y="0" width="1.6" height="525" fill="#000"/>
<rect x="0" y="0" width="520" height="1.6" fill="#000"/>
<rect x="518.6" y="0" width="1.4" height="525" fill="#000"/>
<rect x="0" y="523.6" width="520" height="1.4" fill="#000"/>
</svg>
</body></html>
